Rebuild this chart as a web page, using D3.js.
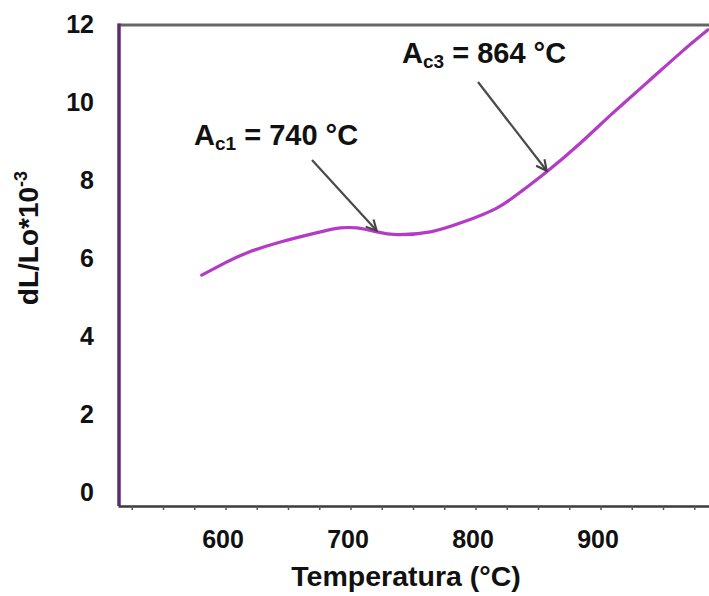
<!DOCTYPE html>
<meta charset="utf-8">
<style>
  body { margin: 0; padding: 0; background: #fff; }
  svg { display: block; font-family: "Liberation Sans", Arial, sans-serif; font-weight: bold; }
  .xaxis path { stroke: #3a3a3a; stroke-width: 2.5px; }
  .xaxis line { stroke: #555; stroke-width: 1.5px; }
  .xaxis text { font-size: 25px; font-weight: bold; fill: #111; font-family: "Liberation Sans", Arial, sans-serif; }
</style>
<body>
<div id="chart"></div>
<script src="https://d3js.org/d3.v7.min.js"></script>
<script>
// dilatometry curve
var temperature = [581, 600, 617, 644, 676, 692, 705, 721, 737, 764, 790, 817, 838, 857, 884, 910, 937, 964, 986];
var dilation    = [5.56, 5.88, 6.13, 6.41, 6.67, 6.77, 6.77, 6.67, 6.60, 6.67, 6.92, 7.28, 7.74, 8.21, 8.95, 9.72, 10.49, 11.26, 11.85];

var yTicks = [0, 2, 4, 6, 8, 10, 12];
var xTickLabels = [600, 700, 800, 900];

// annotations: subscript, text, point the arrow touches
var annoSub  = ["c1", "c3"];
var annoText = [" = 740 °C", " = 864 °C"];
var annoTipT = [721, 857];
var annoTipV = [6.67, 8.21];

var W = 709, H = 596;

var x = d3.scaleLinear().domain([514, 990]).range([118, 713]);
var y = d3.scaleLinear().domain([-0.36, 12]).range([506, 24]);

var svg = d3.select("#chart").append("svg")
    .attr("width", W)
    .attr("height", H);

// top frame line
svg.append("line")
    .attr("x1", x(514)).attr("x2", W)
    .attr("y1", y(12) + 1).attr("y2", y(12) + 1)
    .attr("stroke", "#666")
    .attr("stroke-width", 3);

// bottom axis with small ticks every 25
var minor = d3.range(525, 990, 25);
var xAxis = d3.axisBottom(x)
    .tickValues(minor)
    .tickSize(4)
    .tickSizeOuter(0)
    .tickFormat(function(d) { return xTickLabels.indexOf(d) >= 0 ? d : ""; });

var gx = svg.append("g")
    .attr("class", "xaxis")
    .attr("transform", "translate(0," + y(-0.36) + ")")
    .call(xAxis);
gx.selectAll("text")
    .attr("y", 42)
    .attr("dy", 0)
    .attr("dx", -3);

// left axis, purple
svg.append("line")
    .attr("x1", x(514) + 1).attr("x2", x(514) + 1)
    .attr("y1", y(12) - 0.5).attr("y2", y(-0.36))
    .attr("stroke", "#5e2a73")
    .attr("stroke-width", 3.5);

svg.selectAll(".ylab")
    .data(yTicks)
    .enter().append("text")
    .attr("class", "ylab")
    .attr("x", 94)
    .attr("y", function(d) { return y(d) + 9; })
    .attr("text-anchor", "end")
    .attr("font-size", 25)
    .attr("fill", "#111")
    .text(function(d) { return d; });

// axis titles
svg.append("text")
    .attr("x", 406)
    .attr("y", 586)
    .attr("text-anchor", "middle")
    .attr("font-size", 28.5)
    .attr("fill", "#111")
    .text("Temperatura (°C)");

var yt = svg.append("text")
    .attr("transform", "translate(38,238) rotate(-90)")
    .attr("text-anchor", "middle")
    .attr("font-size", 28)
    .attr("fill", "#111");
yt.append("tspan").text("dL/Lo*10");
yt.append("tspan").attr("dy", -11).attr("font-size", 18).text("-3");

// the curve
var pts = temperature.map(function(t, i) { return [t, dilation[i]]; });
var line = d3.line()
    .x(function(d) { return x(d[0]); })
    .y(function(d) { return y(d[1]); })
    .curve(d3.curveNatural);

svg.append("path")
    .datum(pts)
    .attr("fill", "none")
    .attr("stroke", "#b43bc6")
    .attr("stroke-width", 3.2)
    .attr("stroke-linecap", "round")
    .attr("d", line);

// arrows + labels
svg.append("defs").append("marker")
    .attr("id", "head")
    .attr("viewBox", "0 0 10 10")
    .attr("refX", 9).attr("refY", 5)
    .attr("markerWidth", 6).attr("markerHeight", 6)
    .attr("orient", "auto")
    .append("path")
    .attr("d", "M1,1 L9,5 L1,9")
    .attr("fill", "none")
    .attr("stroke", "#444")
    .attr("stroke-width", 1.6);

var tails = [[312, 160], [478, 82]];
var labelPos = [[194, 145], [402, 63]];

annoSub.forEach(function(s, i) {
    svg.append("line")
        .attr("x1", tails[i][0]).attr("y1", tails[i][1])
        .attr("x2", x(annoTipT[i])).attr("y2", y(annoTipV[i]) - 1)
        .attr("stroke", "#4a4a4a")
        .attr("stroke-width", 2.2)
        .attr("marker-end", "url(#head)");

    var t = svg.append("text")
        .attr("x", labelPos[i][0])
        .attr("y", labelPos[i][1])
        .attr("font-size", 29)
        .attr("fill", "#111");
    t.append("tspan").text("A");
    t.append("tspan").attr("dy", 5).attr("font-size", 19).text(s);
    t.append("tspan").attr("dy", -5).text(annoText[i]);
});
</script>
</body>
